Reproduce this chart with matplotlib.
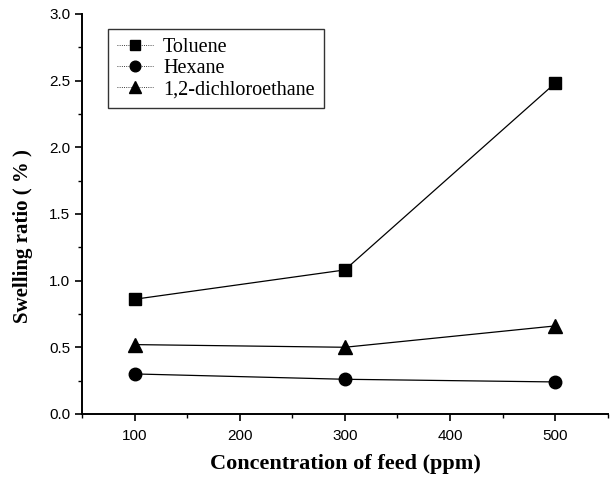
import numpy as np
import matplotlib.pyplot as plt
from matplotlib.ticker import MultipleLocator

# feed concentration (ppm) and swelling ratio (%) for each solvent
conc = [100, 300, 500]
toluene = [0.86, 1.08, 2.48]
hexane = [0.30, 0.26, 0.24]
dce = [0.52, 0.50, 0.66]

fig = plt.figure(figsize=(6.12, 4.78), dpi=100)
ax = fig.add_axes([0.134, 0.134, 0.859, 0.837])

ax.plot(conc, toluene, 'k-', marker='s', markersize=8, lw=0.9, label='Toluene')
ax.plot(conc, hexane, 'k-', marker='o', markersize=9, lw=0.9, label='Hexane')
ax.plot(conc, dce, 'k-', marker='^', markersize=10, lw=0.9, label='1,2-dichloroethane')

ax.set_xlim(50, 550)
ax.set_ylim(0, 3.0)
ax.xaxis.set_major_locator(MultipleLocator(100))
ax.xaxis.set_minor_locator(MultipleLocator(50))
ax.yaxis.set_major_locator(MultipleLocator(0.5))
ax.yaxis.set_minor_locator(MultipleLocator(0.25))
ax.tick_params(which='major', length=5, width=1.2, labelsize=11, direction='out')
ax.tick_params(which='minor', length=3, width=1.0, direction='out')
ax.tick_params(axis='x', pad=6)
for lab in ax.get_xticklabels() + ax.get_yticklabels():
    lab.set_family('Liberation Sans')

for s in ['top', 'right']:
    ax.spines[s].set_visible(False)
for s in ['left', 'bottom']:
    ax.spines[s].set_linewidth(1.4)

ax.set_xlabel('Concentration of feed (ppm)', family='Liberation Serif',
              fontweight='bold', fontsize=16)
ax.xaxis.set_label_coords(0.502, -0.1)
ax.set_ylabel('Swelling ratio ( % )', family='Liberation Serif',
              fontweight='bold', fontsize=15)
ax.yaxis.set_label_coords(-0.093, 0.445)

leg = ax.legend(loc='upper left', bbox_to_anchor=(0.049, 0.9625),
                prop={'family': 'Liberation Serif', 'size': 14.5},
                frameon=True, fancybox=False, edgecolor='black',
                handlelength=1.8, handletextpad=0.5, labelspacing=0.1,
                borderpad=0.45, borderaxespad=0, markerscale=0.85)
leg.get_frame().set_linewidth(1.0)
for h in leg.legend_handles:
    h.set_linestyle(':')
    h.set_linewidth(0.6)

fig.savefig('out.png', dpi=100)
